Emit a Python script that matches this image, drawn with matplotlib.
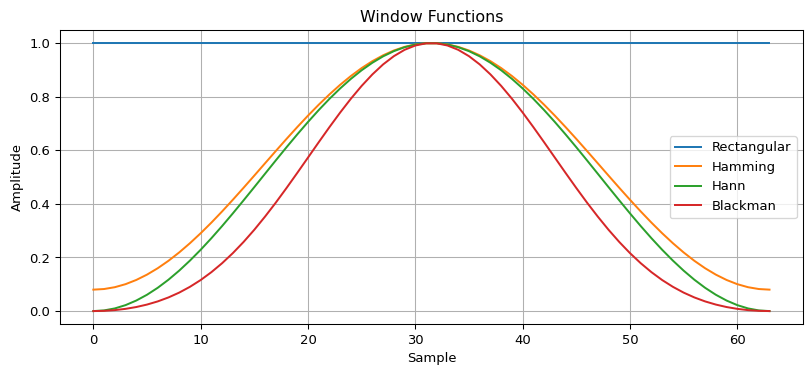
import matplotlib
matplotlib.use("Agg")
import matplotlib.pyplot as plt

# sample index
samples = list(range(64))

# window values (64 samples each)
rectangular = [1.0] * 64

hamming = [
    0.0800, 0.0823, 0.0891, 0.1004, 0.1161, 0.1360, 0.1599, 0.1876,
    0.2188, 0.2532, 0.2904, 0.3301, 0.3719, 0.4154, 0.4601, 0.5056,
    0.5515, 0.5972, 0.6424, 0.6865, 0.7292, 0.7700, 0.8085, 0.8444,
    0.8772, 0.9067, 0.9325, 0.9544, 0.9723, 0.9858, 0.9949, 0.9994,
    0.9994, 0.9949, 0.9858, 0.9723, 0.9544, 0.9325, 0.9067, 0.8772,
    0.8444, 0.8085, 0.7700, 0.7292, 0.6865, 0.6424, 0.5972, 0.5515,
    0.5056, 0.4601, 0.4154, 0.3719, 0.3301, 0.2904, 0.2532, 0.2188,
    0.1876, 0.1599, 0.1360, 0.1161, 0.1004, 0.0891, 0.0823, 0.0800,
]

hann = [
    0.0000, 0.0025, 0.0099, 0.0222, 0.0393, 0.0609, 0.0869, 0.1170,
    0.1509, 0.1883, 0.2287, 0.2719, 0.3173, 0.3646, 0.4132, 0.4626,
    0.5125, 0.5622, 0.6113, 0.6592, 0.7056, 0.7500, 0.7919, 0.8308,
    0.8665, 0.8986, 0.9266, 0.9505, 0.9698, 0.9845, 0.9944, 0.9994,
    0.9994, 0.9944, 0.9845, 0.9698, 0.9505, 0.9266, 0.8986, 0.8665,
    0.8308, 0.7919, 0.7500, 0.7056, 0.6592, 0.6113, 0.5622, 0.5125,
    0.4626, 0.4132, 0.3646, 0.3173, 0.2719, 0.2287, 0.1883, 0.1509,
    0.1170, 0.0869, 0.0609, 0.0393, 0.0222, 0.0099, 0.0025, 0.0000,
]

blackman = [
    0.0000, 0.0009, 0.0036, 0.0083, 0.0151, 0.0243, 0.0361, 0.0509,
    0.0689, 0.0905, 0.1158, 0.1452, 0.1787, 0.2163, 0.2580, 0.3035,
    0.3526, 0.4046, 0.4592, 0.5155, 0.5727, 0.6300, 0.6864, 0.7409,
    0.7925, 0.8402, 0.8831, 0.9204, 0.9511, 0.9748, 0.9909, 0.9990,
    0.9990, 0.9909, 0.9748, 0.9511, 0.9204, 0.8831, 0.8402, 0.7925,
    0.7409, 0.6864, 0.6300, 0.5727, 0.5155, 0.4592, 0.4046, 0.3526,
    0.3035, 0.2580, 0.2163, 0.1787, 0.1452, 0.1158, 0.0905, 0.0689,
    0.0509, 0.0361, 0.0243, 0.0151, 0.0083, 0.0036, 0.0009, 0.0000,
]

# slightly scaled-down rendering to match the reference text size
fig, ax = plt.subplots(figsize=(8.55, 3.949), dpi=94.97)
fig.subplots_adjust(left=0.0733, right=0.9893, top=0.9208, bottom=0.1347)

ax.plot(samples, rectangular, label="Rectangular")
ax.plot(samples, hamming, label="Hamming")
ax.plot(samples, hann, label="Hann")
ax.plot(samples, blackman, label="Blackman")

ax.set_title("Window Functions")
ax.set_xlabel("Sample")
ax.set_ylabel("Amplitude")
ax.grid(True)
ax.legend()

plt.savefig("out.png", dpi=94.97)
